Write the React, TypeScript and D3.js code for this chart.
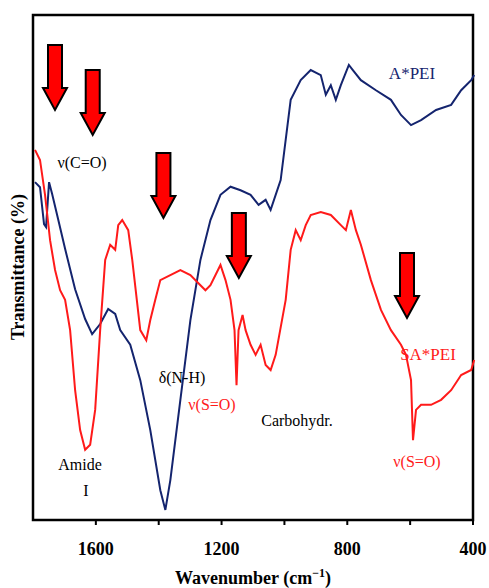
import React from "react";
import * as d3 from "d3";

const xTicks = [1600, 1400, 1200, 1000, 800, 600, 400];
const xTickLabels = ["1600", "", "1200", "", "800", "", "400"];
// [wavenumber, transmittance(arbitrary %)]
const aPei: [number, number][] = [
  [1793.6,66.9],[1777.7,65.9],[1764.9,58.6],[1758.5,58.0],[1748.9,66.9],[1739.3,64.6],[1720.2,59.6],[1697.9,53.7],[1666.0,45.7],[1634.1,39.8],[1611.8,36.8],[1586.3,38.8],[1560.8,41.8],[1538.4,40.8],[1522.5,37.6],[1490.6,34.7],[1458.7,27.7],[1426.8,17.8],[1394.9,5.9],[1378.9,2.0],[1363.0,7.9],[1331.1,23.8],[1299.2,39.6],[1267.3,51.5],[1235.4,59.4],[1203.5,64.4],[1171.5,66.0],[1139.6,65.3],[1107.7,64.4],[1082.2,62.4],[1059.8,63.4],[1043.9,61.4],[1012.0,67.3],[980.1,83.2],[948.2,87.1],[916.3,89.1],[884.4,88.1],[868.4,84.2],[852.4,86.1],[836.5,83.2],[820.5,86.1],[795.0,90.1],[782.3,89.1],[756.8,87.1],[708.9,85.1],[661.1,83.2],[629.2,80.2],[597.2,78.2],[565.3,79.2],[517.5,81.2],[469.6,82.2],[437.7,85.1],[405.8,87.1],[396.2,88.1]
];
const saPei: [number, number][] = [
  [1793.6,73.3],[1777.7,71.3],[1761.7,64.4],[1745.7,55.4],[1729.8,49.5],[1713.8,45.5],[1697.9,43.6],[1681.9,37.6],[1666.0,25.7],[1650.0,17.8],[1634.1,13.9],[1618.1,14.9],[1602.2,21.8],[1586.3,37.6],[1570.3,51.5],[1554.4,54.5],[1538.4,53.5],[1528.8,58.4],[1516.1,59.4],[1497.0,57.4],[1484.2,51.5],[1458.7,37.6],[1439.6,35.6],[1426.8,39.6],[1410.9,43.6],[1394.9,47.5],[1363.0,48.5],[1331.1,49.5],[1299.2,48.5],[1267.3,46.5],[1251.3,45.5],[1235.4,46.5],[1203.5,50.5],[1187.5,47.5],[1171.5,43.6],[1158.8,37.6],[1152.4,26.7],[1146.0,37.6],[1133.2,40.6],[1123.6,37.6],[1107.7,34.7],[1091.7,32.7],[1075.8,34.7],[1059.8,30.7],[1043.9,29.7],[1027.9,32.7],[996.0,43.6],[980.1,53.5],[964.1,57.4],[948.2,55.4],[932.2,58.4],[916.3,60.4],[884.4,61.0],[852.4,60.4],[820.5,58.4],[804.5,57.4],[788.6,61.4],[772.6,57.4],[756.8,54.5],[724.9,47.5],[692.9,41.6],[661.1,37.6],[629.2,34.7],[613.2,32.7],[597.2,27.7],[590.9,15.8],[581.3,21.8],[565.3,22.8],[533.4,22.8],[501.5,23.8],[469.6,25.7],[437.7,28.7],[405.8,29.7],[396.2,31.7]
];
const arrowPos: [number, number][] = [[1730, 45], [1610, 70], [1385, 153], [1145, 213], [610, 253]];

export default function App() {
  const L = 33, R = 473, T = 15, B = 520;
  const x = d3.scaleLinear().domain([1800, 400]).range([L, R]);
  const y = d3.scaleLinear().domain([0, 100]).range([B, T]);
  const line = d3.line<[number, number]>().x(d => x(d[0])).y(d => y(d[1])).curve(d3.curveLinear);
  const arrow = (cx: number, top: number) => {
    const h = 65, sw = 7, hw = 12, hh = 22;
    return `M${cx - sw},${top} L${cx + sw},${top} L${cx + sw},${top + h - hh} L${cx + hw},${top + h - hh} L${cx},${top + h} L${cx - hw},${top + h - hh} L${cx - sw},${top + h - hh} Z`;
  };
  return (
    <svg width={489} height={588} style={{ position: "absolute", left: 0, top: 0, background: "#fff", fontFamily: "Liberation Serif, serif" }}>
      <rect x={L} y={T} width={R - L} height={B - T} fill="none" stroke="#000" strokeWidth={2.5} />
      {xTicks.map((t, i) => (
        <g key={t}>
          <line x1={x(t)} x2={x(t)} y1={B} y2={B + 5} stroke="#000" strokeWidth={2} />
          {xTickLabels[i] && <text x={x(t)} y={555} textAnchor="middle" fontSize={18} fontWeight="bold">{xTickLabels[i]}</text>}
        </g>
      ))}
      <path d={line(aPei) || ""} fill="none" stroke="#14246e" strokeWidth={2} />
      <path d={line(saPei) || ""} fill="none" stroke="#ff1a1a" strokeWidth={2} />
      {arrowPos.map(([w, top], i) => (
        <path key={i} d={arrow(x(w), top)} fill="#ff0000" stroke="#000" strokeWidth={2} />
      ))}
      <text x={82} y={168} fontSize={16} textAnchor="middle">ν(C=O)</text>
      <text x={80} y={470} fontSize={16} textAnchor="middle">Amide</text>
      <text x={86} y={496} fontSize={16} textAnchor="middle">I</text>
      <text x={182} y={383} fontSize={16} textAnchor="middle">δ(N-H)</text>
      <text x={212} y={410} fontSize={16} textAnchor="middle" fill="#ff1a1a">ν(S=O)</text>
      <text x={297} y={426} fontSize={16} textAnchor="middle">Carbohydr.</text>
      <text x={417} y={467} fontSize={16} textAnchor="middle" fill="#ff1a1a">ν(S=O)</text>
      <text x={412} y={79} fontSize={17} textAnchor="middle" fill="#14246e">A*PEI</text>
      <text x={428} y={360} fontSize={17} textAnchor="middle" fill="#ff1a1a">SA*PEI</text>
      <text transform="translate(24,267) rotate(-90)" textAnchor="middle" fontSize={18} fontWeight="bold">Transmittance (%)</text>
      <text x={253} y={584} textAnchor="middle" fontSize={18} fontWeight="bold">Wavenumber (cm<tspan dy={-7} fontSize={12}>−1</tspan><tspan dy={7}>)</tspan></text>
    </svg>
  );
}
